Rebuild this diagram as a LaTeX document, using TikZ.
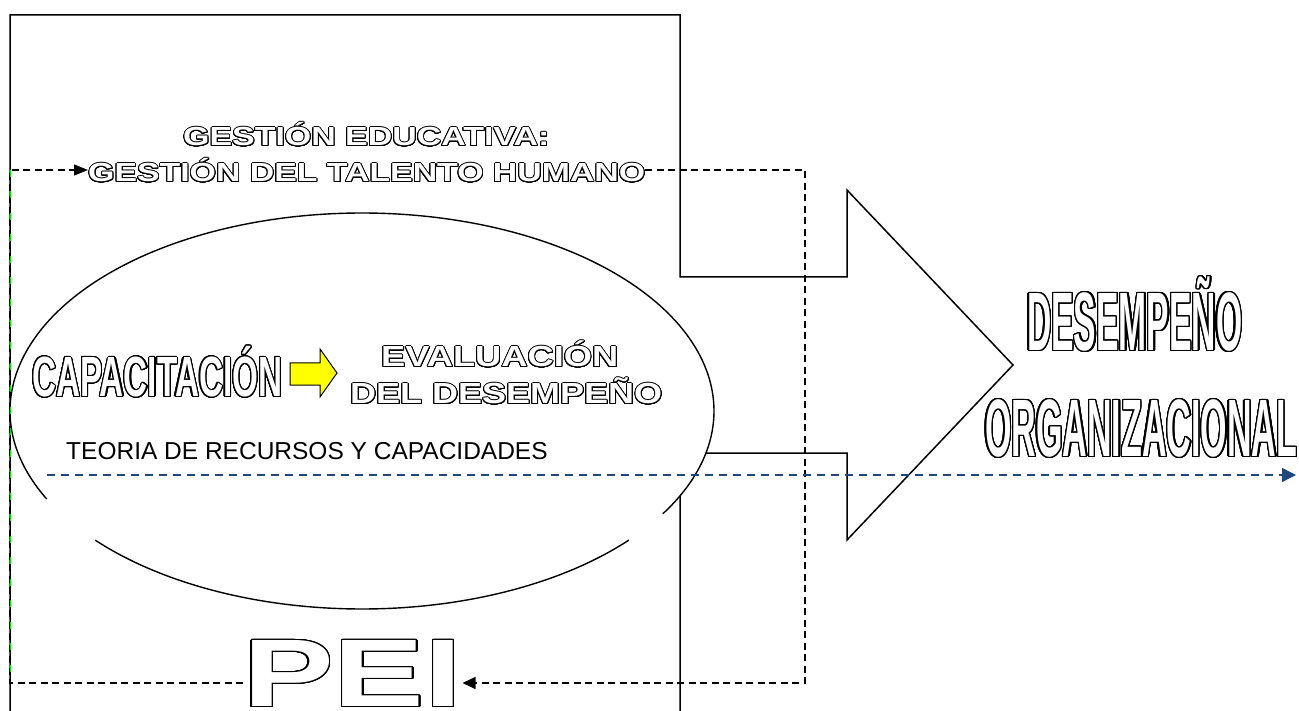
\documentclass[tikz,border=0pt]{standalone}
\usepackage{fontspec}
\setmainfont{Liberation Sans}
\usepackage{graphicx}
\usepackage[copies]{contour}
\usetikzlibrary{arrows.meta}
\contournumber{32}
\definecolor{lineblue}{RGB}{31,73,125}
\definecolor{limegreen}{RGB}{0,230,0}
\definecolor{arrowyellow}{RGB}{255,255,0}
\newcommand\fittext[3]{\resizebox{#1}{#2}{\bfseries\raisebox{0pt}[\fontcharht\font`\H][0pt]{#3}}}
\newcommand\otext[4]{{\contourlength{#1}\color{white}\contour{black}{\fittext{#2}{#3}{#4}}}}
\begin{document}
\begin{tikzpicture}[x=1pt,y=-1pt,
  outl/.style={draw=black,line width=1.5pt,line join=miter},
  dsh/.style={draw=black,line width=1.3pt,dash pattern=on 7pt off 4.5pt},
  bdash/.style={draw=lineblue,line width=1.4pt,dash pattern=on 8pt off 6pt},
  gdash/.style={draw=limegreen,line width=1.3pt,dash pattern=on 7pt off 14.5pt},
  txt/.style={inner sep=0pt,anchor=south west}]
\useasboundingbox (0,0) rectangle (1299,711);
% big arrow shape
\draw[outl] (10,712) -- (10,15) -- (680,15) -- (680,277) -- (847,277) -- (847,190)
  -- (1013,365) -- (847,540) -- (847,453) -- (680,453) -- (680,712);
% ellipse
\fill[white] (362,411) ellipse [x radius=352pt, y radius=198pt];
\draw[outl,line width=1.4pt] plot[domain=-31.3:206.4,samples=160,smooth] ({362+352*cos(\x)},{411-198*sin(\x)});
\draw[outl,line width=1.4pt] plot[domain=220.7:319.3,samples=80,smooth] ({362+352*cos(\x)},{411-198*sin(\x)});
% texts
\node[txt] (ge1) at (183,147) {\otext{0.9pt}{366pt}{18pt}{GESTIÓN EDUCATIVA:}};
\node[txt] (ge2) at (88,183) {\otext{0.9pt}{557pt}{18pt}{GESTIÓN DEL TALENTO HUMANO}};
\node[txt] (cap) at (32,398) {\otext{1.1pt}{250pt}{39pt}{CAPACITACIÓN}};
\node[txt] (ev1) at (381,368) {\otext{0.9pt}{237pt}{20pt}{EVALUACIÓN}};
\node[txt] (ev2) at (350,405) {\otext{0.9pt}{312pt}{20pt}{DEL DESEMPEÑO}};
\node[inner sep=0pt,anchor=base west,font=\fontsize{24.5}{28}\selectfont] (teo) at (66,459) {TEORIA DE RECURSOS Y CAPACIDADES};
\node[txt] (do1) at (1027,352) {\otext{1.3pt}{215pt}{57pt}{DESEMPEÑO}};
\node[txt] (do2) at (985,458) {\otext{1.3pt}{312pt}{56pt}{ORGANIZACIONAL}};
\node[txt] (pei) at (243,708) {\otext{1.3pt}{219pt}{66pt}{PEI}};
% yellow arrow
\draw[line width=1pt,fill=arrowyellow] (290,363) -- (320,363) -- (320,349) -- (337,373)
  -- (320,397) -- (320,385) -- (290,385) -- cycle;
% dashed loop
\coordinate (c1) at (10,170);
\coordinate (c2) at (805,170);
\coordinate (c3) at (805,683);
\coordinate (c4) at (10,683);
\draw[dsh,-{Triangle[length=14pt,width=11pt]}] (pei.west |- c4) -- (c4) -- (c1) -- (c1 -| ge2.west);
\draw[gdash] ([xshift=0.6pt]c1) -- ([xshift=0.6pt]c4);
\draw[dsh,-{Triangle[length=13pt,width=12pt]}] (ge2.east |- c2) -- (c2) -- (c3) -- (c3 -| pei.east);
% blue dashed arrow
\coordinate (b1) at (47,475);
\coordinate (b2) at (1296,475);
\draw[bdash,-{Triangle[length=14pt,width=14pt]}] (b1) -- (b2);
\end{tikzpicture}
\end{document}
